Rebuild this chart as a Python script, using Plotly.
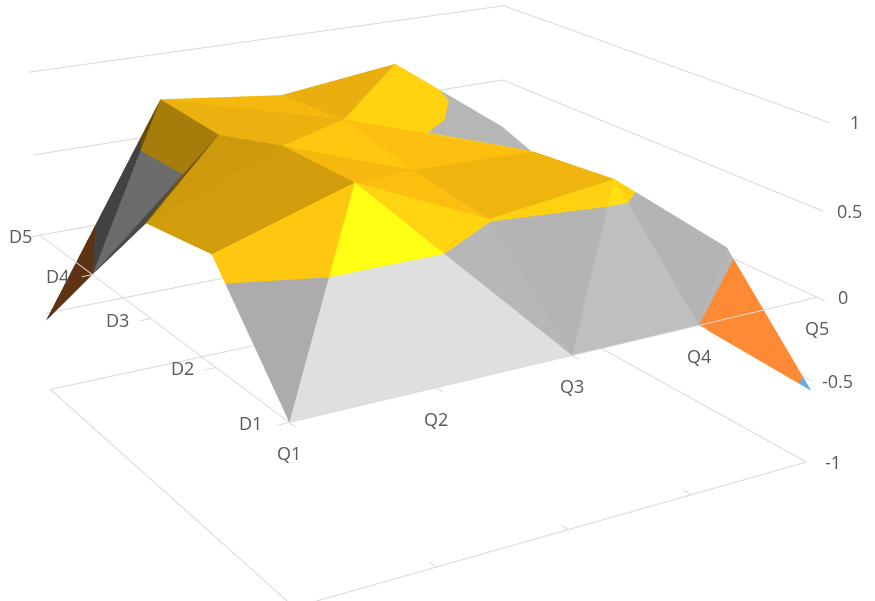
import plotly.graph_objects as go

# Sales surface: one row per depth series, one column per quarter
quarters = ["Q1", "Q2", "Q3", "Q4", "Q5"]
depths = ["D1", "D2", "D3", "D4", "D5"]
d1 = [0.0, 0.0, 0.0, 0.0, -0.56]
d2 = [0.61, 0.85, 0.51, 0.60, 0.05]
d3 = [0.54, 0.84, 0.57, 0.55, 0.0]
d4 = [0.0, 0.70, 0.67, 0.43, 0.0]
d5 = [-0.55, 0.72, 0.63, 0.72, 0.18]
z_ticks = [-1, -0.5, 0, 0.5, 1]
tick_text = ["-1", "-0.5", "0", "0.5", "1"]

rows = [d1, d2, d3, d4, d5]

# value bands and the base colour of each
bands = [(-1, -0.5, (91, 155, 213)), (-0.5, 0, (237, 125, 49)),
         (0, 0.5, (165, 165, 165)), (0.5, 1, (255, 192, 15))]

# brightness of each facet, keyed by its corners written as "qd"
shade = {
    "11 21 22": 1.35, "21 31 22": 1.35, "11 12 22": 1.04, "31 32 22": 1.11,
    "31 32 42": 1.09, "31 41 42": 1.16, "41 52 42": 1.09, "41 51 52": 1.10,
    "12 22 23": 0.82, "12 13 23": 0.82, "13 23 24": 0.80, "13 14 24": 0.45,
    "22 23 33": 0.96, "23 34 33": 1.04, "22 32 33": 0.99, "33 34 43": 0.99,
    "33 43 42": 0.94, "33 32 42": 0.94, "34 45 44": 1.10, "35 45 34": 0.91,
    "25 35 34": 0.96, "25 24 34": 0.92, "24 23 34": 0.92, "14 25 24": 0.65,
    "14 15 25": 0.40,
}


def shade_of(a, b, c):
    key = sorted(f"{p[0]+1}{p[1]+1}" for p in (a, b, c))
    for k, v in shade.items():
        if sorted(k.split()) == key:
            return v
    return 1.10


def clip(poly, lo, hi):
    # keep the part of a polygon whose value lies between lo and hi
    for bound, sign in ((lo, 1), (hi, -1)):
        out = []
        for i, p in enumerate(poly):
            q = poly[(i + 1) % len(poly)]
            dp, dq = sign * (p[2] - bound), sign * (q[2] - bound)
            if dp >= 0:
                out.append(p)
            if dp * dq < 0:
                t = dp / (dp - dq)
                out.append(tuple(p[n] + t * (q[n] - p[n]) for n in range(3)))
        poly = out
        if not poly:
            break
    return poly


vx, vy, vz, fi, fj, fk, fc = [], [], [], [], [], [], []


def add_facet(a, b, c):
    f = shade_of(a, b, c)
    pts = [(p[0], p[1], rows[p[1]][p[0]]) for p in (a, b, c)]
    for lo, hi, rgb in bands:
        poly = clip(pts, lo, hi)
        if len(poly) < 3:
            continue
        col = "rgb(%d,%d,%d)" % tuple(min(255, round(v * f)) for v in rgb)
        start = len(vx)
        for p in poly:
            vx.append(p[0]); vy.append(p[1]); vz.append(p[2])
        for n in range(1, len(poly) - 1):
            fi.append(start); fj.append(start + n); fk.append(start + n + 1)
            fc.append(col)


for j in range(4):
    for i in range(4):
        # each cell folds along its higher diagonal
        if rows[j][i] + rows[j + 1][i + 1] >= rows[j][i + 1] + rows[j + 1][i]:
            add_facet((i, j), (i + 1, j), (i + 1, j + 1))
            add_facet((i, j), (i, j + 1), (i + 1, j + 1))
        else:
            add_facet((i + 1, j), (i, j), (i, j + 1))
            add_facet((i + 1, j), (i + 1, j + 1), (i, j + 1))

fig = go.Figure()
fig.add_trace(go.Mesh3d(
    x=vx, y=vy, z=vz, i=fi, j=fj, k=fk, facecolor=fc, flatshading=True,
    lighting=dict(ambient=1, diffuse=0, specular=0, fresnel=0),
    hoverinfo="skip", showscale=False,
))

lx, ly, lz = [], [], []


def seg(*points):
    for p in points:
        lx.append(p[0]); ly.append(p[1]); lz.append(p[2])
    lx.append(None); ly.append(None); lz.append(None)


# level lines on the two back walls, and the floor outline
for z in z_ticks:
    seg((0, 4, z), (4, 4, z))
    seg((4, 4, z), (4, 0, z))
seg((0, 4, -1), (0, 0, -1), (4, 0, -1))
# axes in the zero plane with their tick marks
seg((0, 0, 0), (4, 0, 0))
seg((0, 0, 0), (0, 4, 0))
for n in range(5):
    seg((n, 0, 0), (n, -0.08, 0))
    seg((0, n, 0), (-0.08, n, 0))
    seg((n, 0, -1), (n, 0.08, -1))

fig.add_trace(go.Scatter3d(x=lx, y=ly, z=lz, mode="lines",
                           line=dict(color="#d9d9d9", width=2),
                           hoverinfo="skip", showlegend=False))

font = dict(family="Open Sans", size=18, color="#595959")
ann = []
for n, t in enumerate(quarters):
    ann.append(dict(x=n, y=0, z=0, text=t, showarrow=False, font=font, yshift=-31))
for n, t in enumerate(depths):
    ann.append(dict(x=0, y=n, z=0, text=t, showarrow=False, font=font,
                    xshift=[-39, -34, -33, -35, -19][n], yshift=-1))
for z, t in zip(z_ticks, tick_text):
    ann.append(dict(x=4, y=0, z=z, text=t, showarrow=False, font=font, xshift=26))

hidden = dict(visible=False, showgrid=False, zeroline=False, showbackground=False,
              showspikes=False)

# A long lens: the page holds a larger canvas, centred on the window, so the
# view narrows while the chart keeps its size on screen.
LENS = 3.0
VIEW_W, VIEW_H = 875, 601
W, H = round(VIEW_W * LENS), round(VIEW_H * LENS)
D = 1.27 * LENS

# the axis ranges carry a little slack so lines on the box edges are not clipped
PAD = 1.05
fig.update_layout(
    width=W, height=H, margin=dict(l=0, r=0, t=0, b=0),
    paper_bgcolor="white", showlegend=False,
    scene=dict(
        xaxis=dict(hidden, range=[2 - 2 * PAD, 2 + 2 * PAD]),
        yaxis=dict(hidden, range=[2 - 2 * PAD, 2 + 2 * PAD]),
        zaxis=dict(hidden, range=[-PAD, PAD]),
        aspectmode="manual", aspectratio=dict(x=PAD, y=0.98 * PAD, z=0.61 * PAD),
        camera=dict(eye=dict(x=-0.478 * D, y=-0.811 * D, z=0.339 * D),
                    center=dict(x=0.0356, y=-0.023, z=-0.066), up=dict(x=0, y=0, z=1)),
        annotations=ann,
    ),
)
post = """
var gd = document.getElementById('{plot_id}');
document.documentElement.style.overflow = 'hidden';
document.body.style.overflow = 'hidden';
gd.style.position = 'absolute';
gd.style.left = '%dpx';
gd.style.top = '%dpx';
""" % (-(W - VIEW_W) // 2, -(H - VIEW_H) // 2)
fig.write_html("out.html", post_script=post)
